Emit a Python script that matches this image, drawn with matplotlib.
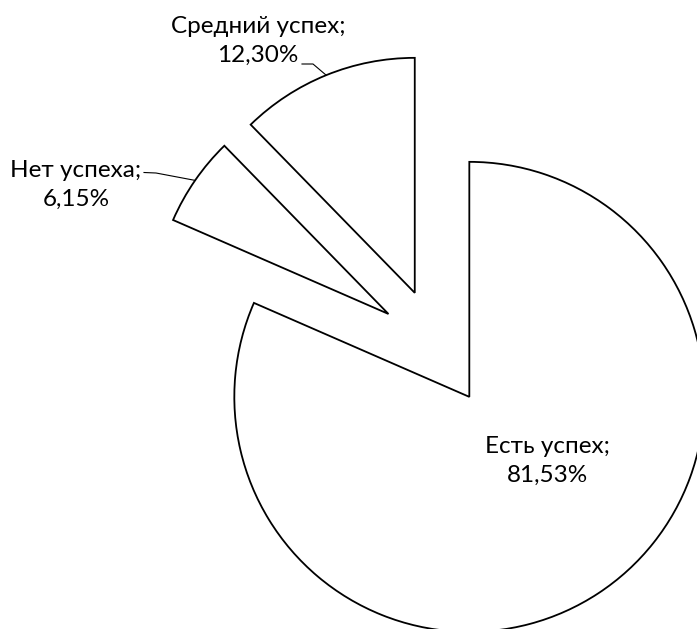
import numpy as np
import matplotlib
matplotlib.use('Agg')
import matplotlib.pyplot as plt

# results of the survey, percent
names = ['Есть успех', 'Нет успеха', 'Средний успех']
shares = [81.53, 6.15, 12.30]

W, H = 697, 629

plt.rcParams['font.family'] = ['Lato', 'Open Sans', 'DejaVu Sans']

fig = plt.figure(figsize=(W / 100, H / 100), dpi=100)
ax = fig.add_axes([0, 0, 1, 1])

R = 235
wedges, _ = ax.pie(shares, radius=R, center=(437, H - 347.5),
                   explode=[59, 59, 59], startangle=90, counterclock=False,
                   wedgeprops=dict(facecolor='white', edgecolor='black', linewidth=1.3))

ax.set_xlim(0, W)
ax.set_ylim(0, H)
ax.set_aspect('equal')
ax.axis('off')

labels = [f'{n};\n{v:.2f}%'.replace('.', ',') for n, v in zip(names, shares)]


def arc_mid(w):
    # point on the outer arc in the middle of the wedge
    a = np.deg2rad((w.theta1 + w.theta2) / 2)
    return w.center[0] + w.r * np.cos(a), w.center[1] + w.r * np.sin(a)


fs = 17.5
ls = 1.5
# big slice: label inside
ax.text(547, H - 461, labels[0], ha='center', va='center', fontsize=fs, linespacing=ls)

# small slices: label outside with a leader line
ax.text(76, H - 185, labels[1], ha='center', va='center', fontsize=fs, linespacing=ls)
px, py = arc_mid(wedges[1])
ax.plot([px, 156, 144], [py, H - 173, H - 172.5], color='black', lw=0.8)

ax.text(258, H - 41, labels[2], ha='center', va='center', fontsize=fs, linespacing=ls)
px, py = arc_mid(wedges[2])
ax.plot([px, 313, 302], [py, H - 64, H - 64], color='black', lw=0.8)

fig.savefig('out.png', dpi=100)
